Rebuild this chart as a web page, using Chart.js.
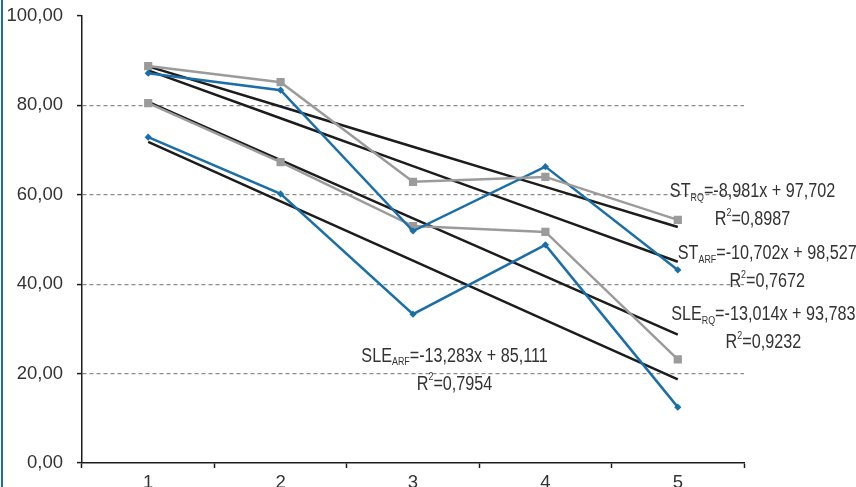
<!DOCTYPE html>
<html>
<head>
<meta charset="utf-8">
<script src="https://cdn.jsdelivr.net/npm/chart.js@4"></script>
<style>
  html, body { margin: 0; padding: 0; background: #fff; overflow: hidden; }
  #wrap { position: relative; width: 856px; height: 500px; }
  #edge { position: absolute; left: 1px; top: 0; width: 2px; height: 100%; background: #1b6fa8; }
</style>
</head>
<body>
<div id="wrap">
  <div id="edge"></div>
  <canvas id="trendChart"></canvas>
</div>
<script>
/* ===== data ===== */
const categories = ["1", "2", "3", "4", "5"];

const stRq   = [88.8, 85.2, 62.9, 64.0, 54.4];
const stArf  = [87.2, 83.4, 51.9, 66.3, 43.2];
const sleRq  = [80.5, 67.3, 53.0, 51.7, 23.2];
const sleArf = [72.9, 60.2, 33.3, 48.8, 12.5];

// linear fits, one per series (same order as above)
const fitNames   = [["ST", "RQ"], ["ST", "ARF"], ["SLE", "RQ"], ["SLE", "ARF"]];
const slopes     = [-8.981, -10.702, -13.014, -13.283];
const intercepts = [97.702, 98.527, 93.783, 85.111];
const rSquared   = ["0,8987", "0,7672", "0,9232", "0,7954"];

// where each equation label sits (category index, y value)
const labelAt = [[3.94, 60.6], [4.0, 46.8], [3.95, 33.1], [1.61, 23.9]];

const BLUE = "#1b6fa8";
const GREY = "#9b9b9b";
const INK = "#1c1c1c";
const TEXT = "#333";
const SANS = '"Liberation Sans", Arial, sans-serif';
const SQUEEZE = 0.83;   // condensed look for the equations

const fmt = n => n.toFixed(3).replace(".", ",");

function fitLine(i) {
  return categories.map((c, k) => slopes[i] * (k + 1) + intercepts[i]);
}

function series(data, color, style, radius) {
  return {
    data,
    borderColor: color,
    backgroundColor: color,
    borderWidth: 2.5,
    pointStyle: style,
    pointRadius: radius,
    pointHoverRadius: radius,
    pointBorderWidth: 0,
    tension: 0,
    order: 1,
  };
}

function trend(i) {
  return {
    data: fitLine(i),
    borderColor: INK,
    borderWidth: 2.5,
    pointRadius: 0,
    tension: 0,
    order: 2,
  };
}

/* ===== equation labels with sub/superscripts ===== */
function runSize(kind, size) {
  return kind === "n" ? size : size * 0.55;
}

function runsWidth(ctx, runs, size) {
  let w = 0;
  runs.forEach(([txt, kind]) => {
    ctx.font = `${runSize(kind, size)}px ${SANS}`;
    w += ctx.measureText(txt).width;
  });
  return w * SQUEEZE;
}

function drawRuns(ctx, x, y, runs, size) {
  ctx.save();
  ctx.translate(x, y);
  ctx.scale(SQUEEZE, 1);
  let cx = 0;
  runs.forEach(([txt, kind]) => {
    const dy = kind === "sub" ? size * 0.3 : kind === "sup" ? -size * 0.36 : 0;
    ctx.font = `${runSize(kind, size)}px ${SANS}`;
    ctx.fillText(txt, cx, dy);
    cx += ctx.measureText(txt).width;
  });
  ctx.restore();
}

const equationLabels = {
  id: "equationLabels",
  afterDatasetsDraw(chart) {
    const { ctx, scales: { x, y } } = chart;
    const size = 19.5;
    ctx.save();
    ctx.fillStyle = TEXT;
    ctx.textBaseline = "middle";
    ctx.textAlign = "left";
    fitNames.forEach((name, i) => {
      const px = x.getPixelForValue(labelAt[i][0]);
      const py = y.getPixelForValue(labelAt[i][1]);
      const eq = [
        [name[0], "n"], [name[1], "sub"],
        [`=${fmt(slopes[i])}x + ${fmt(intercepts[i])}`, "n"],
      ];
      const w = runsWidth(ctx, eq, size);
      drawRuns(ctx, px, py, eq, size);
      const r2 = [["R", "n"], ["2", "sup"], [`=${rSquared[i]}`, "n"]];
      const w2 = runsWidth(ctx, r2, size);
      drawRuns(ctx, px + (w - w2) / 2, py + 28, r2, size);
    });
    ctx.restore();
  },
};

/* ===== chart ===== */
new Chart(document.getElementById("trendChart"), {
  type: "line",
  data: {
    labels: categories,
    datasets: [
      series(stRq, GREY, "rect", 5.8),
      series(stArf, BLUE, "rectRot", 3.6),
      series(sleRq, GREY, "rect", 5.8),
      series(sleArf, BLUE, "rectRot", 3.6),
      trend(0), trend(1), trend(2), trend(3),
    ],
  },
  options: {
    responsive: true,
    maintainAspectRatio: false,
    animation: false,
    layout: { padding: { top: 16, right: 112, left: 0, bottom: 0 } },
    plugins: {
      legend: { display: false },
      tooltip: { enabled: false },
    },
    scales: {
      x: {
        offset: true,
        grid: {
          offset: true,
          drawOnChartArea: false,
          tickLength: 5,
          tickColor: INK,
          tickWidth: 1.5,
        },
        border: { color: INK, width: 1.5 },
        ticks: { color: TEXT, font: { family: SANS, size: 18.5 }, padding: 4 },
        afterFit(scale) { scale.height = 37; },
      },
      y: {
        min: 0,
        max: 100,
        grid: {
          color: ctx => (ctx.tick && ctx.tick.value > 0 && ctx.tick.value < 100) ? "#8c8c8c" : "rgba(0,0,0,0)",
          lineWidth: 1.2,
          tickColor: INK,
          tickWidth: 1.5,
          tickLength: 5,
          tickBorderDash: [],
        },
        border: { color: INK, width: 1.5, dash: [4, 3] },
        ticks: {
          stepSize: 20,
          color: TEXT,
          font: { family: SANS, size: 18.5 },
          padding: 14,
          callback: v => v.toFixed(2).replace(".", ","),
        },
        afterFit(scale) {
          // fixed gutter; the label padding shouldn't push the plot down
          scale.width = 82;
          scale.paddingTop = 0;
          scale.paddingBottom = 0;
        },
      },
    },
  },
  plugins: [equationLabels],
});
</script>
</body>
</html>
